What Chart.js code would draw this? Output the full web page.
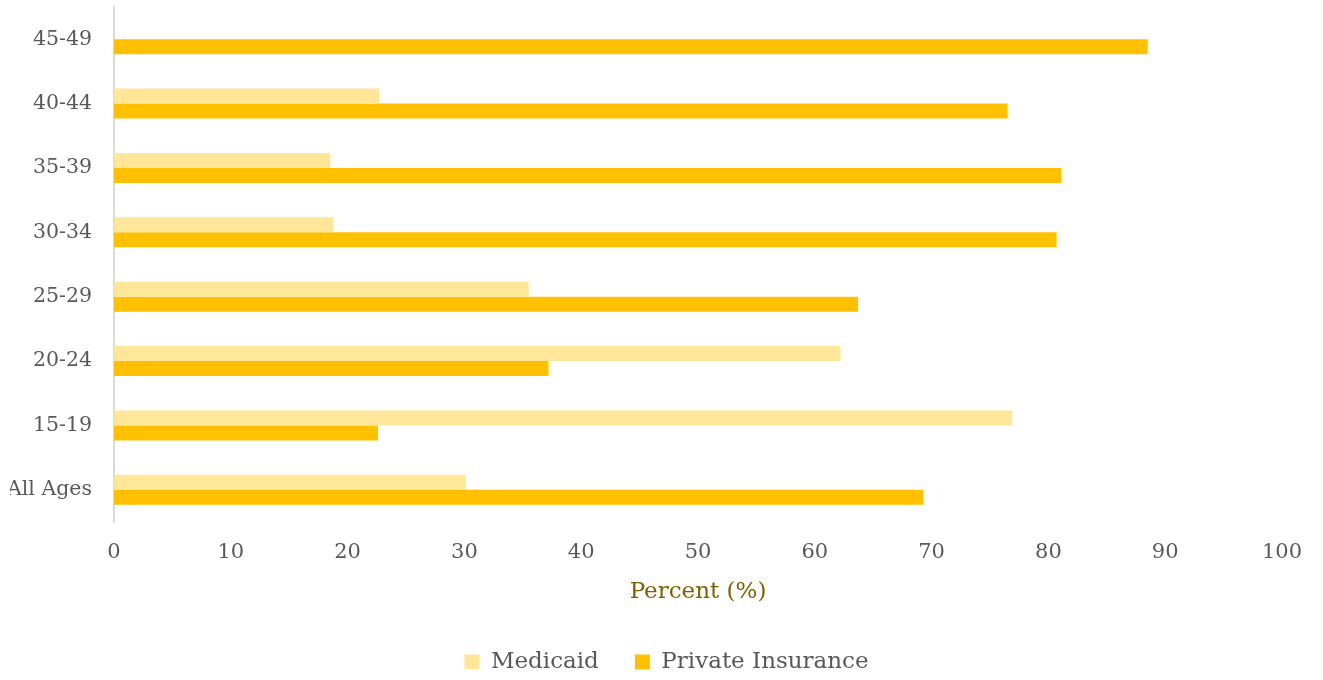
<!DOCTYPE html>
<html>
<head>
<meta charset="utf-8">
<script src="https://cdn.jsdelivr.net/npm/chart.js@4/dist/chart.umd.min.js"></script>
<style>
  html, body { margin: 0; padding: 0; background: #fff; }
  #wrap { width: 1323px; height: 680px; }
</style>
</head>
<body>
<div id="wrap"><canvas id="myChart"></canvas></div>
<script>
const ageGroups = ['45-49', '40-44', '35-39', '30-34', '25-29', '20-24', '15-19', 'All Ages'];
const medicaid = [null, 22.7, 18.5, 18.8, 35.5, 62.2, 76.9, 30.1];
const privateIns = [88.5, 76.5, 81.1, 80.7, 63.7, 37.2, 22.6, 69.3];
const xTicks = [0, 10, 20, 30, 40, 50, 60, 70, 80, 90, 100];

const serif = "'DejaVu Serif', 'Liberation Serif', serif";
const grey = '#595959';

ctx = document.getElementById('myChart').getContext('2d');
myChart = new Chart(ctx, {
    type: 'bar',
    data: {
        labels: ageGroups,
        datasets: [{
            label: 'Medicaid',
            data: medicaid,
            backgroundColor: '#FFE699'
        }, {
            label: 'Private Insurance',
            data: privateIns,
            backgroundColor: '#FFC000'
        }]
    },
    options: {
        indexAxis: 'y',
        responsive: true,
        maintainAspectRatio: false,
        animation: false,
        datasets: {
            bar: {
                barPercentage: 1,
                categoryPercentage: 0.465
            }
        },
        layout: {
            padding: {left: 10, right: 0, top: 7, bottom: -3.5}
        },
        scales: {
            x: {
                min: 0,
                max: 100,
                afterBuildTicks: axis => {
                    axis.ticks = xTicks.map(v => ({value: v}));
                },
                afterFit: scale => {
                    // fixed band under the plot for tick labels + title
                    scale.height = 92.5;
                    scale.paddingLeft = 0;
                    scale.paddingRight = 41;
                },
                grid: {
                    display: false,
                    drawTicks: false
                },
                border: {
                    display: false
                },
                ticks: {
                    color: grey,
                    padding: 18,
                    font: {family: serif, size: 21}
                },
                title: {
                    display: true,
                    text: 'Percent (%)',
                    color: '#7F6000',
                    padding: {top: 0, bottom: 8.7},
                    font: {family: serif, size: 23}
                }
            },
            y: {
                afterFit: scale => {
                    scale.width = 104;
                    scale.paddingTop = 0;
                    scale.paddingBottom = 0;
                },
                grid: {
                    display: false,
                    drawTicks: false
                },
                border: {
                    display: true,
                    color: '#D9D9D9',
                    width: 2
                },
                ticks: {
                    color: grey,
                    padding: 22,
                    font: {family: serif, size: 20.5}
                }
            }
        },
        plugins: {
            legend: {
                position: 'bottom',
                labels: {
                    color: grey,
                    boxWidth: 15,
                    boxHeight: 15,
                    padding: 36,
                    font: {family: serif, size: 23}
                }
            },
            tooltip: {enabled: false}
        }
    }
});
</script>
</body>
</html>
